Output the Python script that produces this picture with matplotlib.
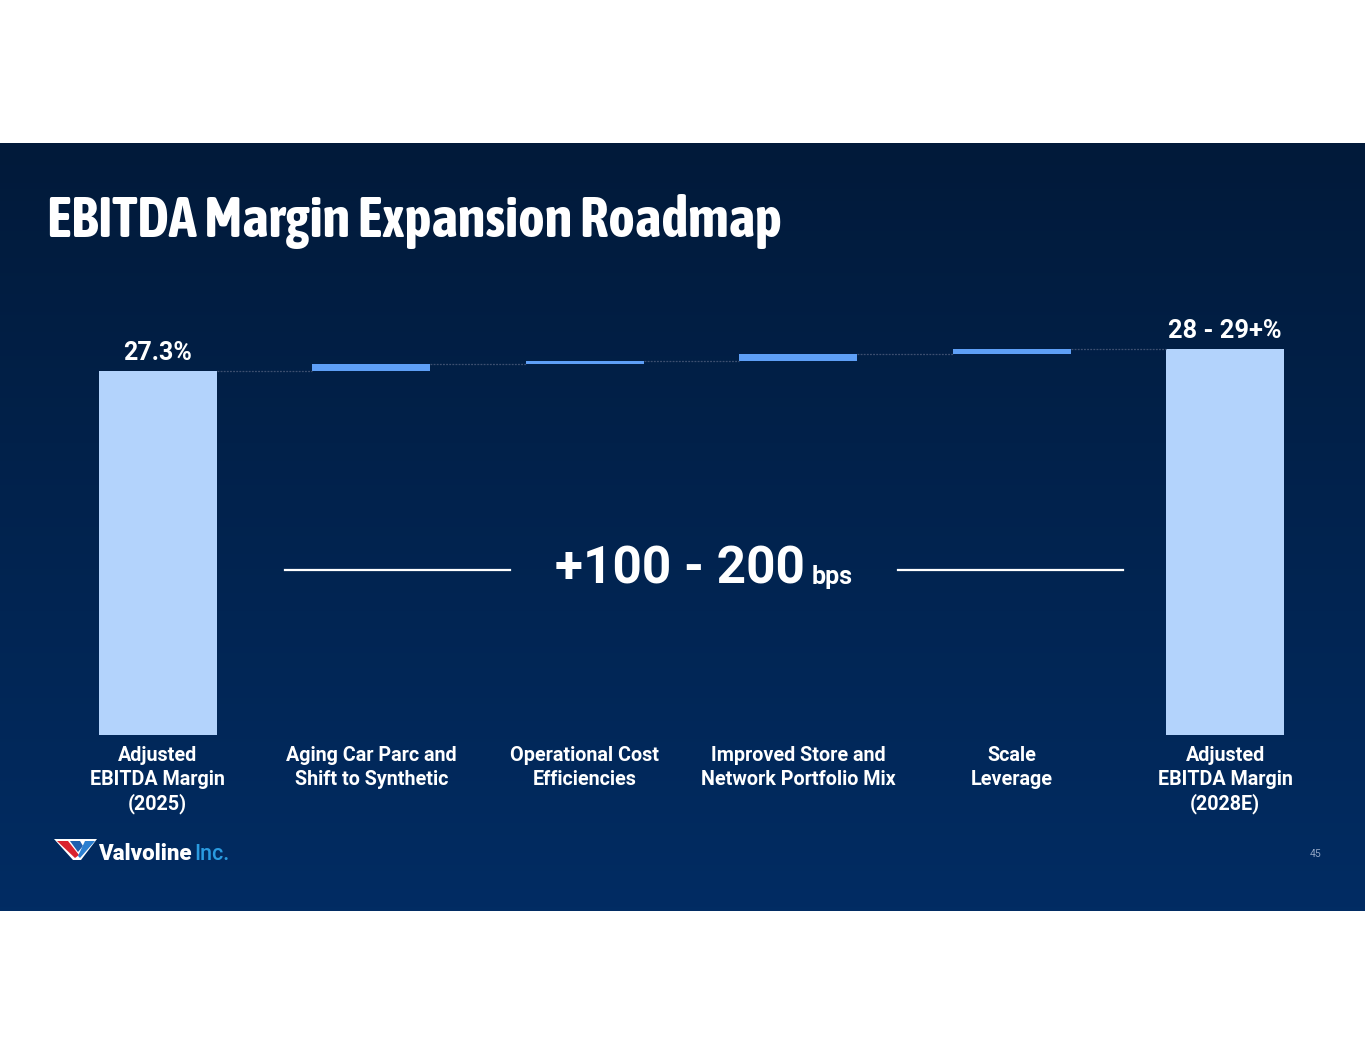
import numpy as np
import matplotlib
matplotlib.use("Agg")
import matplotlib.pyplot as plt
from matplotlib import font_manager as fm
from matplotlib.colors import LinearSegmentedColormap
from matplotlib.patches import Polygon

# data
categories = [
    "Adjusted\nEBITDA Margin\n(2025)",
    "Aging Car Parc and\nShift to Synthetic",
    "Operational Cost\nEfficiencies",
    "Improved Store and\nNetwork Portfolio Mix",
    "Scale\nLeverage",
    "Adjusted\nEBITDA Margin\n(2028E)",
]
start_value = 27.3
step_values = [0.50, 0.27, 0.47, 0.43]
start_label = "27.3%"
end_label = "28 - 29+%"

W, H = 1365, 1055
fig = plt.figure(figsize=(W / 100, H / 100), dpi=100, facecolor="white")
renderer = fig.canvas.get_renderer()


def fx(px):
    return px / W


def fy(py):
    return 1 - py / H


def width_px(t):
    return t.get_window_extent(renderer).width


# bold narrow faces that are installed
def condensed_fonts(max_diff):
    found = []
    for f in fm.fontManager.ttflist:
        key = (f.name + " " + str(f.stretch) + " " + f.fname).lower()
        if not any(k in key for k in ("condensed", "narrow")):
            continue
        if f.style != "normal":
            continue
        w = f.weight if isinstance(f.weight, int) else {"bold": 700}.get(f.weight, 400)
        if abs(w - 700) > max_diff:
            continue
        found.append(f.fname)
    return [fm.FontProperties(fname=p) for p in sorted(set(found))]


# dark panel with gradient
bg = fig.add_axes([0, fy(911), 1, (911 - 143) / H])
cmap = LinearSegmentedColormap.from_list("bg", ["#011a3a", "#012c63"])
grad = np.linspace(0, 1, 256).reshape(-1, 1)
bg.imshow(grad, aspect="auto", cmap=cmap, extent=[0, 1, 0, 1], origin="upper")
bg.set_axis_off()

title_text = "EBITDA Margin Expansion Roadmap"
title = fig.text(fx(47), fy(237), title_text, color="white", va="baseline", ha="left")
options = (condensed_fonts(0) or condensed_fonts(100)
           or [fm.FontProperties(family="Roboto", weight="bold")])
# the face whose size, once fitted to ~734 px, is closest to 41 pt
best = None
for fp in options:
    title.set_fontproperties(fp)
    title.set_fontsize(41)
    size = 41 * 734 / width_px(title)
    if best is None or abs(size - 41) < abs(best[0] - 41):
        best = (size, fp)
title.set_fontproperties(best[1])
title.set_fontsize(best[0])

# chart
ax = fig.add_axes([fx(51), fy(735), 1281 / W, 435 / H])
ax.patch.set_alpha(0)
ax.set_xlim(-0.5, 5.5)
ax.set_ylim(0, 435 / 13.333)

bar_w = 0.553
light = "#b3d3fc"
mid = "#5e9ff6"

end_value = start_value + sum(step_values)
x = np.arange(len(categories))

ax.bar(x[0], start_value, width=bar_w, color=light)
ax.bar(x[-1], end_value, width=bar_w, color=light)

running = start_value
levels = [start_value]
for i, v in enumerate(step_values):
    ax.bar(x[i + 1], v, bottom=running, width=bar_w, color=mid)
    running += v
    levels.append(running)

# connectors
for i in range(len(levels)):
    lvl = levels[i]
    ax.plot([x[i] + bar_w / 2, x[i + 1] - bar_w / 2], [lvl, lvl],
            color="#3d4f70", lw=0.9, ls=(0, (1.5, 1)))

ax.text(x[0], start_value + 1.35, start_label, ha="center", va="center",
        color="white", fontsize=18, fontweight="bold", family="Roboto")
ax.text(x[-1], end_value + 1.35, end_label, ha="center", va="center",
        color="white", fontsize=18.3, fontweight="bold", family="Roboto")

ax.set_xticks(x)
ax.set_xticklabels(categories, color="white", fontsize=14.2, fontweight="bold",
                   family="Roboto", linespacing=1.3)
ax.tick_params(axis="x", length=0, pad=8)
ax.set_yticks([])
for s in ax.spines.values():
    s.set_visible(False)

# range annotation, centred between the two rules
big = fig.text(0, fy(584), "+100 - 200", color="white", fontsize=37,
               fontweight="bold", family="Roboto", va="baseline", ha="left")
small = fig.text(0, fy(584), "bps", color="white", fontsize=18,
                 fontweight="bold", family="Roboto", va="baseline", ha="left")
wb, ws, gap = width_px(big), width_px(small), 7
left = 704 - (wb + gap + ws) / 2
big.set_x(fx(left))
small.set_x(fx(left + wb + gap))
fig.add_artist(plt.Line2D([fx(285), fx(510)], [fy(570), fy(570)], color="white", lw=1.6))
fig.add_artist(plt.Line2D([fx(898), fx(1123)], [fy(570), fy(570)], color="white", lw=1.6))

# page number
fig.text(fx(1316), fy(854), "45", color="#8ea2c2", fontsize=7.5, family="Roboto",
         ha="center", va="center")


# logo
def poly(pts, color):
    fig.add_artist(Polygon([(fx(a), fy(b)) for a, b in pts], closed=True,
                           facecolor=color, edgecolor="none",
                           transform=fig.transFigure))


poly([(54, 839), (97, 839), (81, 860), (73, 860)], "white")
poly([(57, 841), (68, 841), (79, 855), (75, 858)], "#d9232e")
poly([(70, 841), (80, 841), (83, 846), (78, 852)], "#1f5fae")
poly([(85, 841), (95, 841), (80, 858), (78, 856)], "#2b7fd0")
brand = fig.text(fx(98), fy(860), "Valvoline", color="white", fontsize=16,
                 fontweight="black", family="Roboto", va="baseline")
inc = fig.text(0, fy(860), "Inc.", color="#2a9be0", fontsize=15.5,
               fontweight="medium", family="Roboto", va="baseline")
inc.set_x(fx(98 + width_px(brand) + 3))

fig.savefig("out.png", dpi=100, facecolor="white")
